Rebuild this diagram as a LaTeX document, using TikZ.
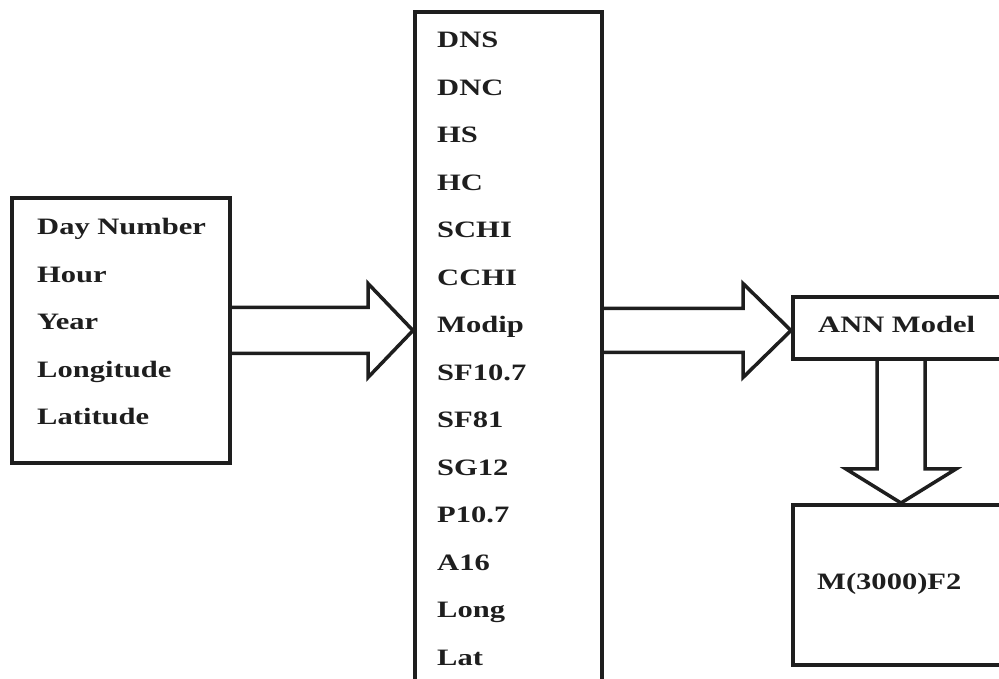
\documentclass[tikz,border=0pt]{standalone}
\usepackage{fontspec}
\setmainfont{Liberation Serif}[FakeStretch=1.3]
\usetikzlibrary{calc}
\definecolor{ink}{RGB}{30,30,30}
\begin{document}
\begin{tikzpicture}[x=1pt,y=1pt,
  box/.style={draw=ink, line width=3.5pt, outer sep=0pt, inner sep=0pt},
  lbl/.style={anchor=base west, inner sep=0pt, font=\fontsize{23.5}{28}\selectfont\bfseries, text=ink},
  barrow/.style={draw=ink, line width=3.5pt, line join=miter}]
\useasboundingbox (0,0) rectangle (999,679);
\clip (0,0) rectangle (999,679);
% boxes
\node[box, minimum width=218pt, minimum height=265pt] (inbox) at (121,348.5) {};
\node[box, minimum width=187pt, minimum height=690pt] (midbox) at (508.5,322) {};
\node[box, minimum width=208pt, minimum height=62pt] (annbox) at (897,351) {};
\node[box, minimum width=208pt, minimum height=160pt] (outbox) at (897,94) {};
% texts
\foreach \t [count=\i from 0] in {Day Number,Hour,Year,Longitude,Latitude}
  \node[lbl] (in\i) at (37,{444-47.5*\i}) {\t};
\foreach \t [count=\i from 0] in {DNS,DNC,HS,HC,SCHI,CCHI,Modip,SF10.7,SF81,SG12,P10.7,A16,Long,Lat}
  \node[lbl] (m\i) at (437,{631-47.5*\i}) {\t};
\node[lbl] (anntext) at (818,346) {ANN Model};
\node[lbl] (outtext) at (817,89) {M(3000)F2};
% arrow 1
\coordinate (a1s) at (inbox.east);
\coordinate (a1t) at ($(inbox.east -| midbox.west)+(-2,0)$);
\draw[barrow] ($(a1s)+(0,23)$) -- ($(a1t)+(-45,23)$) -- ($(a1t)+(-45,47)$) -- (a1t)
  -- ($(a1t)+(-45,-47)$) -- ($(a1t)+(-45,-23)$) -- ($(a1s)+(0,-23)$);
% arrow 2
\coordinate (a2s) at (midbox.east |- a1s);
\coordinate (a2t) at ($(annbox.west |- a1s)+(-2,0)$);
\draw[barrow] ($(a2s)+(0,22)$) -- ($(a2t)+(-48,22)$) -- ($(a2t)+(-48,47)$) -- (a2t)
  -- ($(a2t)+(-48,-47)$) -- ($(a2t)+(-48,-22)$) -- ($(a2s)+(0,-22)$);
% arrow 3 (down)
\coordinate (a3s) at ($(annbox.south)+(4,0)$);
\coordinate (a3t) at ($(a3s |- outbox.north)+(0,2)$);
\draw[barrow] ($(a3s)+(-24,0)$) -- ($(a3t)+(-24,34)$) -- ($(a3t)+(-55,34)$) -- (a3t)
  -- ($(a3t)+(55,34)$) -- ($(a3t)+(24,34)$) -- ($(a3s)+(24,0)$);
\end{tikzpicture}
\end{document}
